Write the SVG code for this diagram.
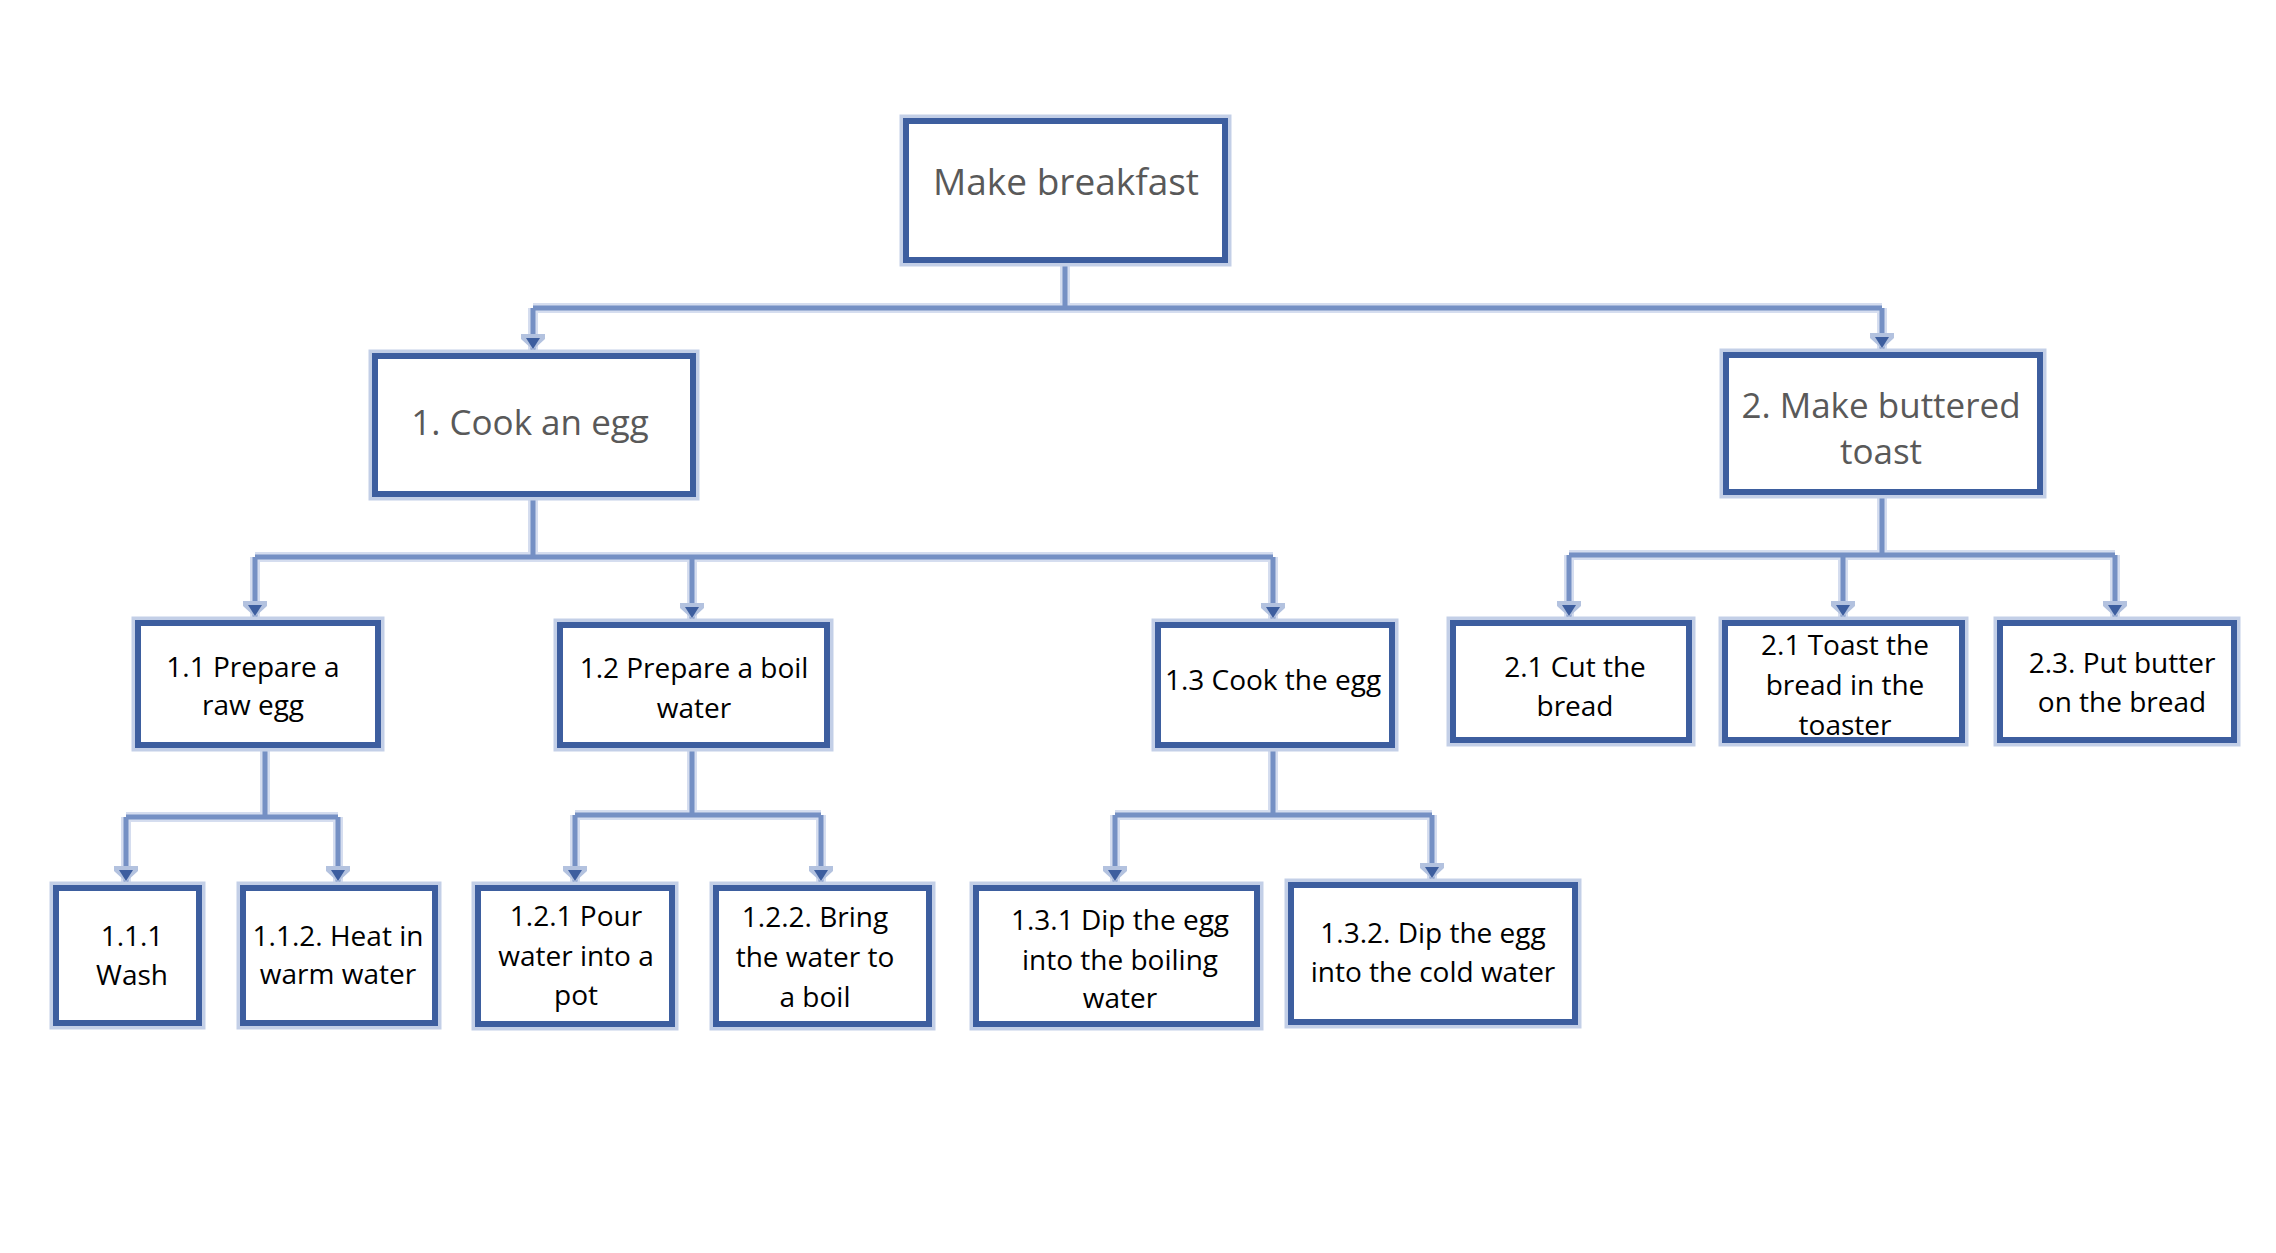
<svg xmlns="http://www.w3.org/2000/svg" width="2276" height="1253" viewBox="0 0 2276 1253">
<style>
.halo{fill:none;stroke:#c3cfe7;stroke-width:13}
.box{fill:#fff;stroke:#3d5e9f;stroke-width:6}
.ch{fill:none;stroke:#d5ddef;stroke-width:10}
.c{fill:none;stroke:#7590c4;stroke-width:5}
.ca{fill:none;stroke:#7590c4;stroke-width:5;marker-end:url(#arr)}
text{font-family:"Open Sans","Noto Sans","Liberation Sans",sans-serif;text-anchor:middle}
.t1{font-size:37px;fill:#595959}
.t2{font-size:35px;fill:#595959}
.t3{font-size:28px;fill:#000}
</style>
<defs>
<marker id="arr" markerUnits="userSpaceOnUse" markerWidth="26" markerHeight="20" viewBox="-13 -18 26 20" refX="0" refY="0" orient="0">
<path d="M-12,-16 L12,-16 L12,-11 L0,0 L-12,-11 Z" fill="#b3c2df"/>
<path d="M-7,-12 L7,-12 L0,-1 Z" fill="#3d5e9f"/>
</marker>
</defs>
<rect width="2276" height="1253" fill="#fff"/>
<g id="connectors">
<path class="ch" d="M1065,263 V308 M533,308 H1882 M533,308 V353 M1882,308 V352 M533,497 V557 M255,557 H1273 M255,557 V620 M692,557 V622 M1273,557 V622 M1882,495 V555 M1569,555 H2115 M1569,555 V620 M1843,555 V620 M2115,555 V620 M265,748 V817 M126,817 H338 M126,817 V885 M338,817 V885 M692,748 V815 M575,815 H821 M575,815 V885 M821,815 V885 M1273,748 V815 M1115,815 H1432 M1115,815 V885 M1432,815 V882"/>
<path class="c" d="M1065,263 V308 M533,308 H1882 M533,497 V557 M255,557 H1273 M1882,495 V555 M1569,555 H2115 M265,748 V817 M126,817 H338 M692,748 V815 M575,815 H821 M1273,748 V815 M1115,815 H1432"/>
<path class="ca" d="M533,308 V350"/>
<path class="ca" d="M1882,308 V349"/>
<path class="ca" d="M255,557 V617"/>
<path class="ca" d="M692,557 V619"/>
<path class="ca" d="M1273,557 V619"/>
<path class="ca" d="M1569,555 V617"/>
<path class="ca" d="M1843,555 V617"/>
<path class="ca" d="M2115,555 V617"/>
<path class="ca" d="M126,817 V882"/>
<path class="ca" d="M338,817 V882"/>
<path class="ca" d="M575,815 V882"/>
<path class="ca" d="M821,815 V882"/>
<path class="ca" d="M1115,815 V882"/>
<path class="ca" d="M1432,815 V879"/>
</g>
<g id="n0">
<rect class="halo" x="906" y="121" width="319" height="139"/>
<rect class="box" x="906" y="121" width="319" height="139"/>
<text class="t1" x="1066" y="195">Make breakfast</text>
</g>
<g id="n1">
<rect class="halo" x="375" y="356" width="318" height="138"/>
<rect class="box" x="375" y="356" width="318" height="138"/>
<text class="t2" x="530" y="435">1. Cook an egg</text>
</g>
<g id="n2">
<rect class="halo" x="1726" y="355" width="314" height="137"/>
<rect class="box" x="1726" y="355" width="314" height="137"/>
<text class="t2" x="1881" y="418">2. Make buttered</text>
<text class="t2" x="1881" y="464">toast</text>
</g>
<g id="n11">
<rect class="halo" x="138" y="623" width="240" height="122"/>
<rect class="box" x="138" y="623" width="240" height="122"/>
<text class="t3" x="253" y="677">1.1 Prepare a</text>
<text class="t3" x="253" y="715">raw egg</text>
</g>
<g id="n12">
<rect class="halo" x="560" y="625" width="267" height="120"/>
<rect class="box" x="560" y="625" width="267" height="120"/>
<text class="t3" x="694" y="678">1.2 Prepare a boil</text>
<text class="t3" x="694" y="718">water</text>
</g>
<g id="n13">
<rect class="halo" x="1158" y="625" width="234" height="120"/>
<rect class="box" x="1158" y="625" width="234" height="120"/>
<text class="t3" x="1273" y="690">1.3 Cook the egg</text>
</g>
<g id="n21">
<rect class="halo" x="1453" y="623" width="236" height="117"/>
<rect class="box" x="1453" y="623" width="236" height="117"/>
<text class="t3" x="1575" y="677">2.1 Cut the</text>
<text class="t3" x="1575" y="716">bread</text>
</g>
<g id="n22">
<rect class="halo" x="1725" y="623" width="237" height="117"/>
<rect class="box" x="1725" y="623" width="237" height="117"/>
<text class="t3" x="1845" y="655">2.1 Toast the</text>
<text class="t3" x="1845" y="695">bread in the</text>
<text class="t3" x="1845" y="735">toaster</text>
</g>
<g id="n23">
<rect class="halo" x="2000" y="623" width="234" height="117"/>
<rect class="box" x="2000" y="623" width="234" height="117"/>
<text class="t3" x="2122" y="673">2.3. Put butter</text>
<text class="t3" x="2122" y="712">on the bread</text>
</g>
<g id="n111">
<rect class="halo" x="56" y="888" width="143" height="135"/>
<rect class="box" x="56" y="888" width="143" height="135"/>
<text class="t3" x="132" y="946">1.1.1</text>
<text class="t3" x="132" y="985">Wash</text>
</g>
<g id="n112">
<rect class="halo" x="243" y="888" width="192" height="135"/>
<rect class="box" x="243" y="888" width="192" height="135"/>
<text class="t3" x="338" y="946">1.1.2. Heat in</text>
<text class="t3" x="338" y="984">warm water</text>
</g>
<g id="n121">
<rect class="halo" x="478" y="888" width="194" height="136"/>
<rect class="box" x="478" y="888" width="194" height="136"/>
<text class="t3" x="576" y="926">1.2.1 Pour</text>
<text class="t3" x="576" y="966">water into a</text>
<text class="t3" x="576" y="1005">pot</text>
</g>
<g id="n122">
<rect class="halo" x="716" y="888" width="213" height="136"/>
<rect class="box" x="716" y="888" width="213" height="136"/>
<text class="t3" x="815" y="927">1.2.2. Bring</text>
<text class="t3" x="815" y="967">the water to</text>
<text class="t3" x="815" y="1007">a boil</text>
</g>
<g id="n131">
<rect class="halo" x="976" y="888" width="281" height="136"/>
<rect class="box" x="976" y="888" width="281" height="136"/>
<text class="t3" x="1120" y="930">1.3.1 Dip the egg</text>
<text class="t3" x="1120" y="970">into the boiling</text>
<text class="t3" x="1120" y="1008">water</text>
</g>
<g id="n132">
<rect class="halo" x="1291" y="885" width="284" height="137"/>
<rect class="box" x="1291" y="885" width="284" height="137"/>
<text class="t3" x="1433" y="943">1.3.2. Dip the egg</text>
<text class="t3" x="1433" y="982">into the cold water</text>
</g>
</svg>
